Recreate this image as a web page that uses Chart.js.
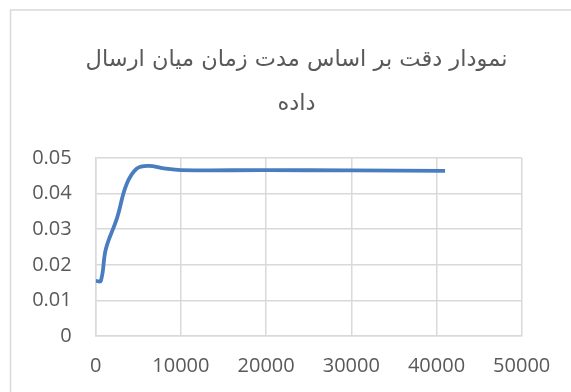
<!DOCTYPE html>
<html>
<head>
<meta charset="utf-8">
<script src="https://cdn.jsdelivr.net/npm/chart.js@4.4.1/dist/chart.umd.min.js"></script>
<style>
  html, body { margin: 0; padding: 0; background: #ffffff; overflow: hidden; }
</style>
</head>
<body>
<canvas id="c" width="571" height="392"></canvas>
<script>
// Interval between sends (x) and accuracy (y)
const intervals = [0, 600, 1200, 2500, 3600, 4800, 6200, 8000, 10000, 20000, 30000, 41000];
const accuracy  = [0.0155, 0.0155, 0.0245, 0.0331, 0.0425, 0.0470, 0.0478, 0.0471, 0.0466, 0.0466, 0.0465, 0.0464];

const yTickValues = [0, 0.01, 0.02, 0.03, 0.04, 0.05];
const yTickLabels = ['0', '0.01', '0.02', '0.03', '0.04', '0.05'];
const xTickValues = [0, 10000, 20000, 30000, 40000, 50000];
const xTickLabels = ['0', '10000', '20000', '30000', '40000', '50000'];

const titleLines = ['نمودار دقت بر اساس مدت زمان میان ارسال', 'داده'];

// Outer frame of the chart object and the two-line title, centred on the frame
const framePlugin = {
  id: 'frame',
  beforeDraw(chart) {
    const ctx = chart.ctx;
    ctx.save();
    ctx.fillStyle = '#ffffff';
    ctx.fillRect(0, 0, chart.width, chart.height);
    ctx.strokeStyle = '#d9d9d9';
    ctx.lineWidth = 1.5;
    ctx.strokeRect(10.5, 10, 800, 600);
    ctx.restore();
  },
  afterDraw(chart) {
    const ctx = chart.ctx;
    ctx.save();
    ctx.fillStyle = '#595959';
    ctx.font = '22.5px "DejaVu Sans", sans-serif';
    ctx.textAlign = 'center';
    ctx.textBaseline = 'alphabetic';
    ctx.direction = 'rtl';
    ctx.fillText(titleLines[0], 296.5, 66);
    ctx.fillText(titleLines[1], 296.5, 110);
    ctx.restore();
  }
};

const tickFont = { family: '"Open Sans", sans-serif', size: 20 };

new Chart(document.getElementById('c'), {
  type: 'scatter',
  data: {
    datasets: [{
      data: intervals.map((x, i) => ({ x: x, y: accuracy[i] })),
      showLine: true,
      borderColor: '#4a7dbf',
      borderWidth: 3.8,
      pointRadius: 0,
      tension: 0.4,
      fill: false
    }]
  },
  options: {
    responsive: false,
    animation: false,
    devicePixelRatio: 1,
    layout: { padding: { left: 10, right: 49.3, top: 158, bottom: 0 } },
    plugins: {
      legend: { display: false },
      tooltip: { enabled: false },
      title: { display: false }
    },
    scales: {
      x: {
        type: 'linear',
        min: 0,
        max: 50000,
        afterBuildTicks(scale) { scale.ticks = xTickValues.map(v => ({ value: v })); },
        ticks: {
          color: '#595959',
          font: tickFont,
          padding: 18,
          maxRotation: 0,
          callback(v) { const i = xTickValues.indexOf(v); return i >= 0 ? xTickLabels[i] : ''; }
        },
        grid: { color: '#d9d9d9', lineWidth: 1.5, drawTicks: false },
        border: { color: '#d9d9d9', width: 1.5 },
        afterFit(scale) { scale.height = 56; }
      },
      y: {
        type: 'linear',
        min: 0,
        max: 0.05,
        afterBuildTicks(scale) { scale.ticks = yTickValues.map(v => ({ value: v })); },
        ticks: {
          color: '#595959',
          font: tickFont,
          padding: 24,
          callback(v) { const i = yTickValues.findIndex(t => Math.abs(t - v) < 1e-9); return i >= 0 ? yTickLabels[i] : ''; }
        },
        grid: { color: '#d9d9d9', lineWidth: 1.5, drawTicks: false },
        border: { color: '#d9d9d9', width: 1.5 },
        afterFit(scale) { scale.width = 85.7; }
      }
    }
  },
  plugins: [framePlugin]
});
</script>
</body>
</html>
